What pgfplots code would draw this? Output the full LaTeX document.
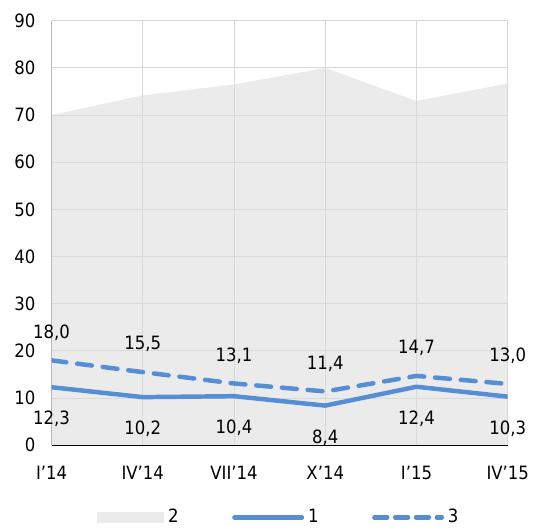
\documentclass[border=0pt]{standalone}
\usepackage{fontspec}
\setmainfont{DejaVu Sans Condensed}
\usepackage{pgfplots}
\usepackage{pgfplotstable}
\pgfplotsset{compat=1.18}
\definecolor{lblue}{RGB}{85,142,213}
\definecolor{areagray}{RGB}{235,235,235}
\definecolor{gridgray}{RGB}{217,217,217}
\pgfplotstableread{
x y1 l1 y3 l3 y2
0 12.3 12,3 18.0 18,0 70.0
1 10.2 10,2 15.5 15,5 74.2
2 10.4 10,4 13.1 13,1 76.5
3 8.4 8,4 11.4 11,4 80.0
4 12.4 12,4 14.7 14,7 73.0
5 10.3 10,3 13.0 13,0 76.7
}\data
\begin{document}
\fontsize{18.5}{22}\selectfont
\begin{tikzpicture}
\begin{axis}[
  set layers=standard,
  scale only axis,
  width=460pt, height=428pt,
  xmin=0, xmax=5, ymin=0, ymax=90,
  xtick={0,1,2,3,4,5},
  xticklabels={I’14,IV’14,VII’14,X’14,I’15,IV’15},
  ytick={0,10,...,90},
  /pgf/number format/assume math mode=true,
  font=\fontsize{18.5}{22}\selectfont,
  major tick length=0pt,
  axis x line*=bottom,
  axis y line*=left,
  x axis line style={black, line width=1pt},
  y axis line style={color=black!28, line width=1pt},
  grid=major,
  major grid style={gridgray, line width=1pt},
  yticklabel style={anchor=east, xshift=-10pt},
  xticklabel style={anchor=north, yshift=-15pt},
  legend columns=3,
  legend style={draw=none, fill=none, at={(0.5,-0.170)}, anchor=center,
    font=\fontsize{18.5}{22}\selectfont,
    /tikz/every even column/.append style={column sep=50pt},
    nodes={inner sep=4pt}},
]
\addplot[fill=areagray, draw=none, on layer=axis background,
  legend image code/.code={\fill[areagray] (0pt,-5.5pt) rectangle (68pt,5.5pt);}]
  table[x=x, y=y2] {\data} \closedcycle;
\addlegendentry{2}
\addplot[lblue, line width=4.5pt, line join=round,
  nodes near coords, point meta=explicit symbolic,
  every node near coord/.append style={black, anchor=center, yshift=-32pt, font=\fontsize{18.5}{22}\selectfont},
  legend image code/.code={\draw[lblue, line width=4.5pt, line cap=round] (2pt,0pt) -- (70pt,0pt);}]
  table[x=x, y=y1, meta=l1] {\data};
\addlegendentry{1}
\addplot[lblue, line width=4.5pt, line cap=round, dash pattern=on 15pt off 11pt,
  nodes near coords, point meta=explicit symbolic,
  every node near coord/.append style={black, anchor=center, yshift=28pt, font=\fontsize{18.5}{22}\selectfont},
  legend image code/.code={\draw[lblue, line width=4.5pt, line cap=round, dash pattern=on 13pt off 8pt] (2pt,0pt) -- (70pt,0pt);}]
  table[x=x, y=y3, meta=l3] {\data};
\addlegendentry{3}
\end{axis}
\path (current axis.south west) ++(-52pt,-79pt) rectangle ++(535pt,528pt);
\end{tikzpicture}
\end{document}
